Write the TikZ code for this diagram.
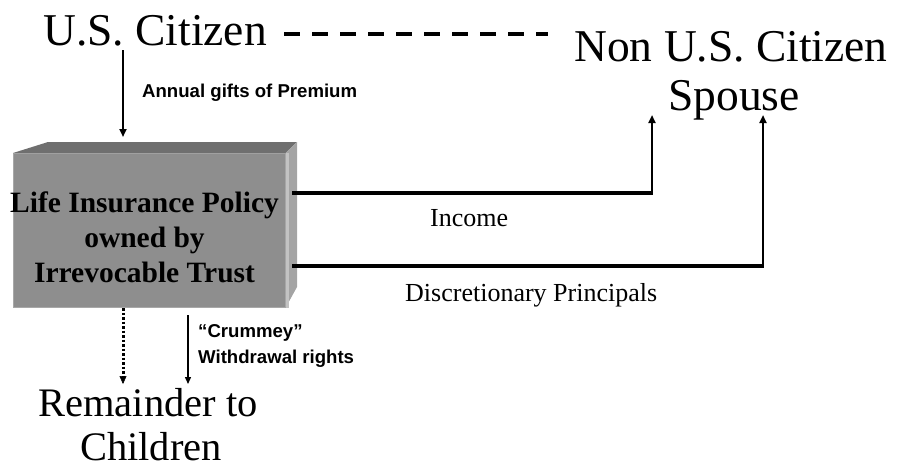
\documentclass[tikz,border=0pt]{standalone}
\usepackage{fontspec}
\setmainfont{Liberation Serif}
\setsansfont{Liberation Sans}
\usetikzlibrary{arrows.meta}
\definecolor{frontc}{HTML}{8E8E8E}
\definecolor{topc}{HTML}{6F6F6F}
\definecolor{sidec}{HTML}{A4A4A4}
\definecolor{edgec}{HTML}{A8A8A8}
\begin{document}
\begin{tikzpicture}[x=1pt,y=-1pt,
  big/.style={font=\fontsize{45.5}{49}\selectfont, inner sep=0pt, anchor=base},
  mid/.style={font=\fontsize{40.5}{45}\selectfont, inner sep=0pt, anchor=base},
  boxtxt/.style={font=\bfseries\fontsize{29.5}{35}\selectfont, align=center, inner sep=0pt},
  sanslab/.style={font=\sffamily\bfseries\fontsize{18.6}{26}\selectfont, inner sep=0pt, anchor=base west},
  serlab/.style={font=\fontsize{26}{30}\selectfont, inner sep=0pt, anchor=base west},
  tipped/.style={-{Triangle[length=8pt,width=7pt]}},
  hline/.style={line width=3.4pt},
  vline/.style={line width=2pt, tipped}
]
\useasboundingbox (0,0) rectangle (899,467);

% texts
\node[big] (usc) at (155,45) {U.S. Citizen};
\node[big] (nonus) at (731,61) {Non U.S. Citizen};
\node[big] (spouse) at (734,110) {Spouse};
\node[mid] (rem) at (148,416) {Remainder to};
\node[mid] (child) at (151,460) {Children};

% box
\node[fill=frontc, draw=edgec, line width=0.6pt, minimum width=272pt, minimum height=154pt,
      anchor=north west, inner sep=0pt] (box) at (13,153) {};
\fill[topc] (box.north west) -- (48,142) -- (297,142) -- (box.north east) -- cycle;
\fill[sidec] (box.north east) -- (297,142) -- (297,287) -- (box.south east) -- cycle;
\fill[edgec!70!white] (box.north east) -- ([xshift=3pt]box.north east) -- ([xshift=3pt]box.south east) -- (box.south east) -- cycle;
\node[boxtxt] (boxtext) at (144.5,237) {Life Insurance Policy\\owned by\\Irrevocable Trust};

% dashed link
\coordinate (d1) at (284,34);
\coordinate (d2) at (548,34);
\draw[line width=4pt, dash pattern=on 16pt off 12pt] (d1) -- (d2);

% annual gifts
\coordinate (a1) at (123,50);
\coordinate (a2) at (123,137);
\draw[line width=2pt, tipped] (a1) -- (a2);
\node[sanslab] (annual) at (142,97) {Annual gifts of Premium};

% income
\coordinate (i0) at (292,193);
\coordinate (i1) at (652,193);
\coordinate (i2) at (652,115);
\draw[hline] (i0) -- ([xshift=1pt]i1);
\draw[vline] ([yshift=1pt]i1) -- (i2);
\node[serlab] (income) at (430,226) {Income};

% discretionary principals
\coordinate (p0) at (292,266);
\coordinate (p1) at (763,266);
\coordinate (p2) at (763,115);
\draw[hline] (p0) -- ([xshift=1pt]p1);
\draw[vline] ([yshift=1pt]p1) -- (p2);
\node[serlab] (disc) at (405,301) {Discretionary Principals};

% bottom arrows
\coordinate (r1) at (123,308);
\coordinate (r2) at (123,384);
\draw[line width=3pt, dash pattern=on 2.5pt off 2pt, -{Triangle[length=8pt,width=7pt,line width=0.5pt]}] (r1) -- (r2);
\coordinate (c1) at (188,315);
\coordinate (c2) at (188,384);
\draw[line width=1.3pt, -{Triangle[length=7pt,width=6pt]}] (c1) -- (c2);
\node[sanslab] (crum) at (198,337) {“Crummey”};
\node[sanslab] (withd) at (198,363) {Withdrawal rights};
\end{tikzpicture}
\end{document}
